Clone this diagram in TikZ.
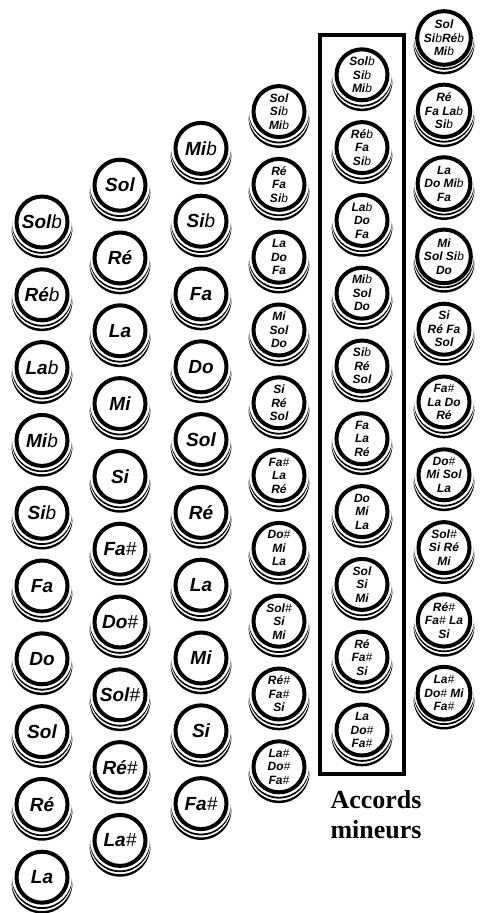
\documentclass[tikz,border=0pt]{standalone}
\usepackage{fontspec}
\setmainfont{Liberation Serif}
\setsansfont{Liberation Sans}
\usetikzlibrary{positioning}
\newcommand{\fla}{\textmd{b}}
\newcommand{\shp}{\textmd{\#}}

\begin{document}
\begin{tikzpicture}[x=1pt,y=-1pt,
  key/.style={circle,draw,line width=4pt,minimum size=51pt,inner sep=0pt,fill=white,
    font=\sffamily\bfseries\itshape\fontsize{19}{20}\selectfont},
  chord/.style={key,align=center,font=\sffamily\bfseries\itshape\fontsize{12}{13.5}\selectfont},
  lbl/.style={font=\rmfamily\bfseries\fontsize{26}{30}\selectfont,inner sep=0pt}]
\useasboundingbox (0,0) rectangle (481,913);
\foreach \col/\x/\y/\sty/\notes in {
  1/42/222/key/{Sol\fla,Ré\fla,La\fla,Mi\fla,Si\fla,Fa,Do,Sol,Ré,La},
  2/120/185.2/key/{Sol,Ré,La,Mi,Si,Fa\shp,Do\shp,Sol\shp,Ré\shp,La\shp},
  3/201/148.4/key/{Mi\fla,Si\fla,Fa,Do,Sol,Ré,La,Mi,Si,Fa\shp},
  4/279/111.6/chord/{Sol\\Si\fla\\Mi\fla,Ré\\Fa\\Si\fla,La\\Do\\Fa,Mi\\Sol\\Do,Si\\Ré\\Sol,
    Fa\shp\\La\\Ré,Do\shp\\Mi\\La,Sol\shp\\Si\\Mi,Ré\shp\\Fa\shp\\Si,La\shp\\Do\shp\\Fa\shp},
  5/362/74.8/chord/{Sol\fla\\Si\fla\\Mi\fla,Ré\fla\\Fa\\Si\fla,La\fla\\Do\\Fa,Mi\fla\\Sol\\Do,
    Si\fla\\Ré\\Sol,Fa\\La\\Ré,Do\\Mi\\La,Sol\\Si\\Mi,Ré\\Fa\shp\\Si,La\\Do\shp\\Fa\shp},
  6/444/38/chord/{Sol\\Si\fla Ré\fla\\Mi\fla,Ré\\Fa La\fla\\Si\fla,La\\Do Mi\fla\\Fa,
    Mi\\Sol Si\fla\\Do,Si\\Ré Fa\\Sol,Fa\shp\\La Do\\Ré,Do\shp\\Mi Sol\\La,
    Sol\shp\\Si Ré\\Mi,Ré\shp\\Fa\shp{} La\\Si,La\shp\\Do\shp{} Mi\\Fa\shp}}
  \foreach \n [count=\r] in \notes {
    \pgfmathsetmacro\yy{\y+(\r-1)*72.8}
    % shadow rims under the button
    \begin{scope}
      \clip (\x-40,\yy+0.9) rectangle (\x+40,\yy+40);
      \fill[even odd rule] (\x,\yy) circle (30pt) (\x,\yy+1.8) circle (30pt);
    \end{scope}
    \begin{scope}
      \clip (\x-40,\yy+4.55) rectangle (\x+40,\yy+40);
      \fill[even odd rule] (\x,\yy+3.3) circle (30.5pt) (\x,\yy+5.8) circle (30.5pt);
    \end{scope}
    \node[\sty] (k\col-\r) at (\x,\yy) {\n};
  }
\draw[line width=4pt] (320,35) rectangle (404,774);
\node[lbl,anchor=base] (acc) at (376,808) {Accords};
\node[lbl,anchor=base] (min) at ([yshift=-30pt]acc.base) {mineurs};
\end{tikzpicture}
\end{document}
